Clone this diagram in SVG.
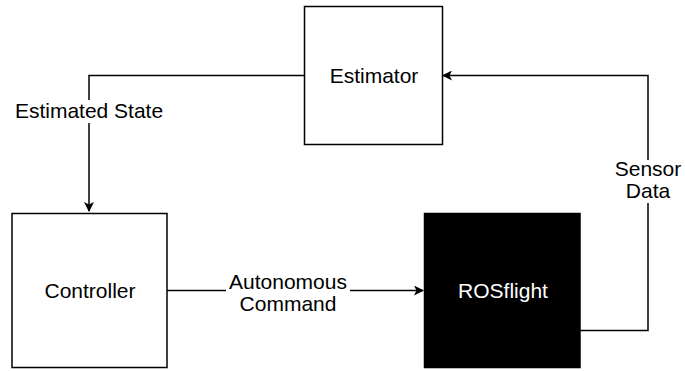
<svg xmlns="http://www.w3.org/2000/svg" width="685" height="371" viewBox="0 0 685 371">
<style>
.box{fill:#fff;stroke:#000;stroke-width:1.5}
.dark{fill:#000;stroke:#000;stroke-width:1.5}
.edge{fill:none;stroke:#000;stroke-width:1.5}
text{font-family:"Liberation Sans",Arial,sans-serif;font-size:21px;text-anchor:middle;fill:#000}
.lbl{fill:#000}
.wt{fill:#fff}
.bg{fill:#fff;stroke:none}
</style>
<defs>
<marker id="arr" viewBox="0 0 10 10" refX="9" refY="5" markerWidth="10" markerHeight="10" markerUnits="userSpaceOnUse" orient="auto">
<path d="M0,0 L10,5 L0,10 L2.5,5 Z" fill="#000"/>
</marker>
</defs>
<rect width="685" height="371" fill="#fff"/>
<g id="connectors">
<path class="edge" d="M304,75.5 H89 V211" marker-end="url(#arr)"/>
<path class="edge" d="M167,290.5 H423" marker-end="url(#arr)"/>
<path class="edge" d="M580,330.5 H648 V75.5 H443" marker-end="url(#arr)"/>
<rect class="bg" x="14" y="100" width="150" height="23"/>
<text x="89" y="118">Estimated State</text>
<rect class="bg" x="226" y="272" width="124" height="44"/>
<text x="288" y="289">Autonomous</text>
<text x="288" y="311">Command</text>
<rect class="bg" x="614" y="160" width="70" height="43"/>
<text x="648" y="176">Sensor</text>
<text x="648" y="198">Data</text>
</g>
<g id="estimator">
<rect class="box" x="304.5" y="6.5" width="138" height="138"/>
<text x="374" y="83">Estimator</text>
</g>
<g id="controller">
<rect class="box" x="12" y="213.5" width="155" height="154"/>
<text x="90" y="298">Controller</text>
</g>
<g id="rosflight">
<rect class="dark" x="424.5" y="213.5" width="155.5" height="154"/>
<text class="wt" x="503" y="298">ROSflight</text>
</g>
</svg>
